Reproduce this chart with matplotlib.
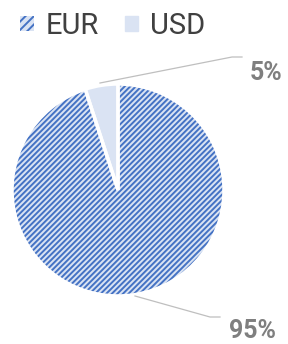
import matplotlib
matplotlib.use("Agg")
import matplotlib.pyplot as plt
from matplotlib.patches import Patch

# data
labels = ["EUR", "USD"]
values = [95, 5]
pct_text = ["95%", "5%"]

plt.rcParams['hatch.linewidth'] = 1.4

fig = plt.figure(figsize=(2.88, 3.44), dpi=100)
ax = fig.add_axes([0, 0, 1, 1])

face = '#dae3f3'
blue = '#4472c4'
# fill + hatch (hatch colour follows the edge colour)
wedges, _ = ax.pie(values, startangle=90, counterclock=False,
                   center=(118, 154), radius=106, frame=True,
                   colors=[face, face],
                   wedgeprops=dict(edgecolor=blue, linewidth=0))
wedges[0].set_hatch('//////')
# white separators on top
ax.pie(values, startangle=90, counterclock=False,
       center=(118, 154), radius=106, frame=True,
       wedgeprops=dict(fill=False, edgecolor='white', linewidth=2.5))
ax.set_xlim(0, 288)
ax.set_ylim(0, 344)
ax.set_aspect('equal')
ax.axis('off')

lab_font = dict(family='Roboto', fontsize=18, fontweight='bold', color='#7f7f7f')
line_kw = dict(color='#bfbfbf', lw=0.9)

# leader lines and percentage labels
ax.plot([100, 232, 242], [261, 287, 287], **line_kw)
ax.text(250, 271, pct_text[1], ha='left', va='center', **lab_font)
ax.plot([135, 210, 220], [48, 27, 27], **line_kw)
ax.text(229, 13, pct_text[0], ha='left', va='center', **lab_font)

h_eur = Patch(facecolor=face, hatch='////', edgecolor=blue, lw=0, label=labels[0])
h_usd = Patch(facecolor=face, edgecolor=face, label=labels[1])
fig.legend(handles=[h_eur, h_usd], loc='upper left', bbox_to_anchor=(0.0, 1.025), ncol=2,
           frameon=False, handlelength=0.45, handleheight=0.45, handletextpad=0.4,
           columnspacing=0.9, prop=dict(family='Roboto', size=21),
           labelcolor='#404040', borderpad=0.2)

fig.savefig('out.png', dpi=100)
